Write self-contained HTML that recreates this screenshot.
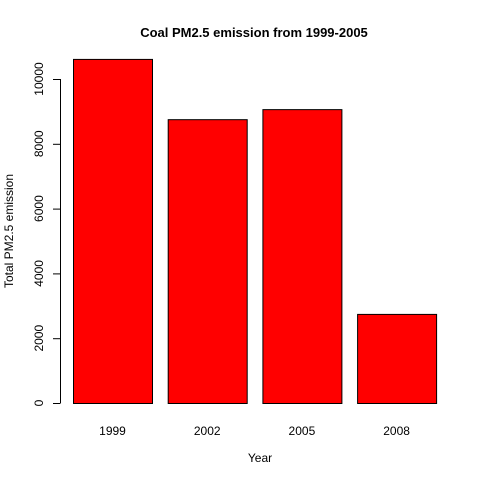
<!DOCTYPE html>
<html><head><meta charset="utf-8"><style>
html,body{margin:0;padding:0;background:#fff}
svg{display:block;font-family:"Liberation Sans",Arial,sans-serif}
</style></head><body>
<svg id="chart" width="480" height="480" viewBox="0 0 480 480">
<text x="254" y="37" text-anchor="middle" font-size="13" font-weight="bold" fill="#000">Coal PM2.5 emission from 1999-2005</text>
<text x="260" y="462" text-anchor="middle" font-size="12" fill="#000">Year</text>
<text transform="translate(13,231) rotate(-90)" text-anchor="middle" font-size="12" fill="#000">Total PM2.5 emission</text>
<g id="bars"></g><g id="yaxis"></g><g id="xlabels"></g>
</svg>
<script>
const categories = ["1999","2002","2005","2008"];
const values = [10620, 8760, 9070, 2750];
const yTicks = [0,2000,4000,6000,8000,10000];
const NS="http://www.w3.org/2000/svg";
function y(v){return 403 - v*0.0324;}
function x(i){return 73 + i*94.7;}
const bw=79;
const bars=document.getElementById('bars');
values.forEach((v,i)=>{
  const r=document.createElementNS(NS,'rect');
  r.setAttribute('x',x(i)+0.5);r.setAttribute('y',y(v)+0.5);
  r.setAttribute('width',bw);r.setAttribute('height',403-y(v));
  r.setAttribute('fill','#ff0000');r.setAttribute('stroke','#000');
  
  
  bars.appendChild(r);
  const t=document.createElementNS(NS,'text');
  t.setAttribute('x',x(i)+bw/2);t.setAttribute('y',435);
  t.setAttribute('text-anchor','middle');t.setAttribute('font-size','12');
  t.textContent=categories[i];
  
  
  document.getElementById('xlabels').appendChild(t);
});
const ya=document.getElementById('yaxis');
const ax=document.createElementNS(NS,'line');
ax.setAttribute('x1',60.5);ax.setAttribute('x2',60.5);
ax.setAttribute('y1',y(0));ax.setAttribute('y2',y(yTicks[yTicks.length-1]));
ax.setAttribute('stroke','#000');


ya.appendChild(ax);
yTicks.forEach(v=>{
  const l=document.createElementNS(NS,'line');
  l.setAttribute('x1',53);l.setAttribute('x2',60.5);
  l.setAttribute('y1',y(v)+0.5);l.setAttribute('y2',y(v)+0.5);
  l.setAttribute('stroke','#000');
  
  
  ya.appendChild(l);
  const t=document.createElementNS(NS,'text');
  t.setAttribute('transform','translate(43,'+y(v)+') rotate(-90)');
  t.setAttribute('text-anchor','middle');t.setAttribute('font-size','12');
  t.textContent=v;
  
  
  ya.appendChild(t);
});
</script>
</body></html>
